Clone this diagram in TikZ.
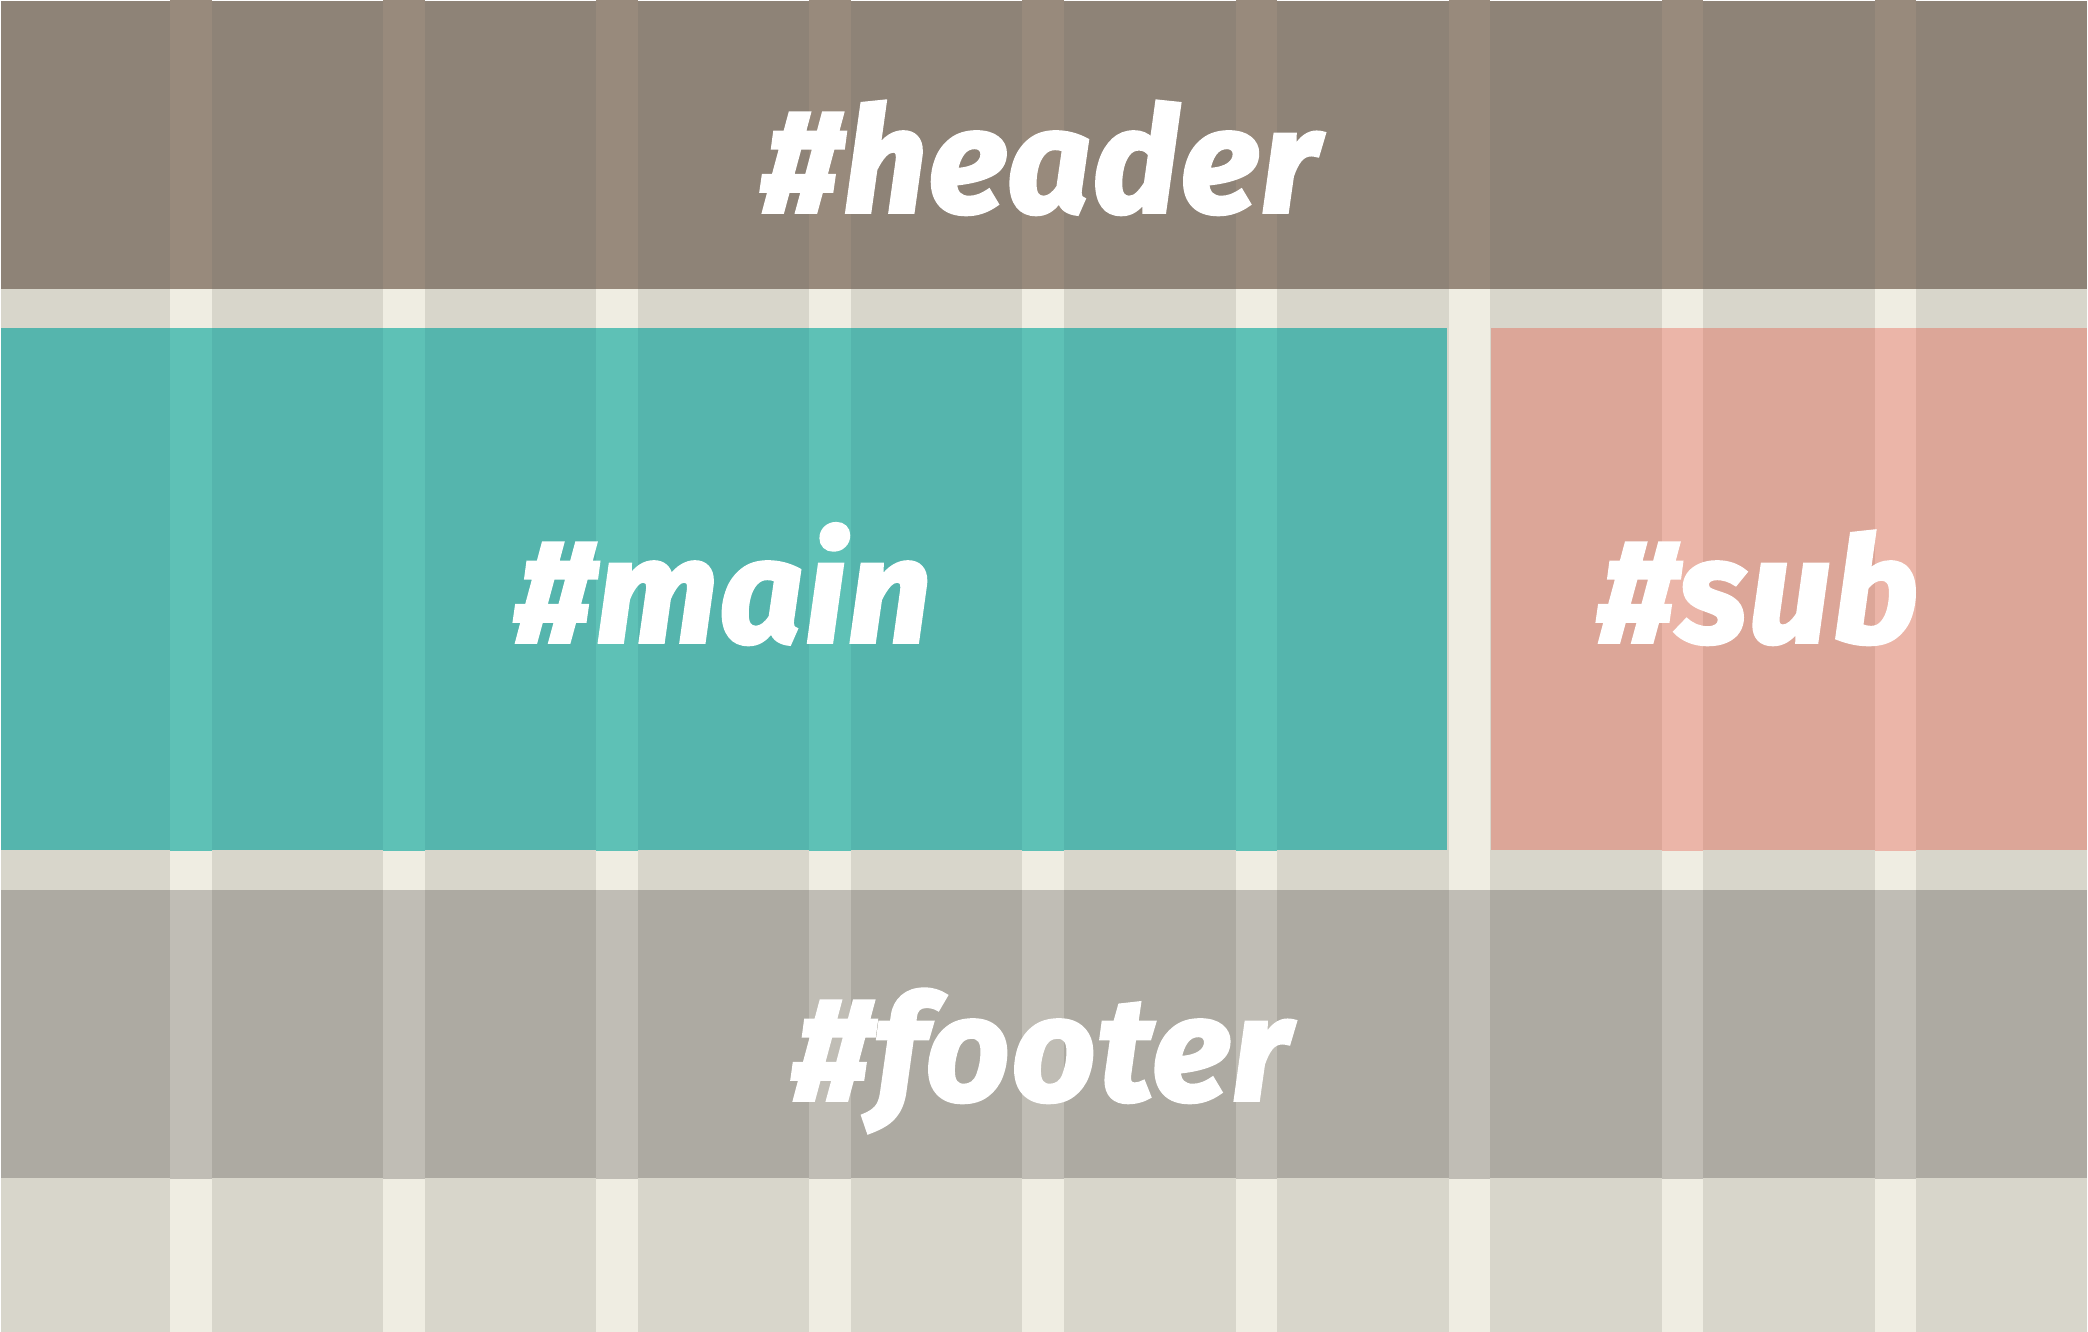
\documentclass[tikz,border=0pt]{standalone}
\usepackage{fontspec}
\setmainfont{Fira Sans}
\newfontfamily\lblfont{Fira Sans}[BoldItalicFeatures={FakeBold=2.5,LetterSpace=1.5}]
\definecolor{bgc}{HTML}{D8D6CB}
\definecolor{bgs}{HTML}{EFEDE2}
\definecolor{hdc}{HTML}{8E8377}
\definecolor{hds}{HTML}{988A7C}
\definecolor{mnc}{HTML}{55B5AD}
\definecolor{mns}{HTML}{5EC1B6}
\definecolor{sbc}{HTML}{DCA698}
\definecolor{sbs}{HTML}{EBB5A8}
\definecolor{ftc}{HTML}{ADAAA2}
\definecolor{fts}{HTML}{C0BDB5}
\tikzset{
  lbl/.style={text=white, anchor=base, inner sep=0pt, font=\lblfont\fontsize{73}{73}\selectfont\bfseries\itshape},
}
\newcommand{\gridstripes}[1]{%
  \foreach \k in {0,...,8}{\fill[#1] ({170+213.1*\k},0) rectangle ({211.5+213.1*\k},1332);}}
\newcommand{\gridblock}[6]{%
  \fill[#5] (#1,#2) rectangle (#3,#4);
  \begin{scope}
    \clip (#1,#2) rectangle (#3,#4);
    \gridstripes{#6}
  \end{scope}}
\begin{document}
\begin{tikzpicture}[x=0.5pt,y=-0.5pt]
\useasboundingbox (0,0) rectangle (2088,1332);
\fill[white] (0,0) rectangle (2088,1332);
\fill[bgc] (1,1) rectangle (2087,1332);
\begin{scope}
  \clip (1,1) rectangle (2087,1332);
  \gridstripes{bgs}
\end{scope}
\gridblock{1}{1}{2087}{289}{hdc}{hds}
\gridblock{1}{328}{1447}{850}{mnc}{mns}
\gridblock{1490.5}{328}{2087}{850}{sbc}{sbs}
\gridblock{1}{890}{2087}{1178}{ftc}{fts}
\node[lbl] (header) at (1040,212) {\#header};
\node[lbl] (main) at (723,642) {\#main};
\node[lbl] (sub) at (1758,642) {\#sub};
\node[lbl] (footer) at (1041,1100) {\#footer};
\end{tikzpicture}
\end{document}
